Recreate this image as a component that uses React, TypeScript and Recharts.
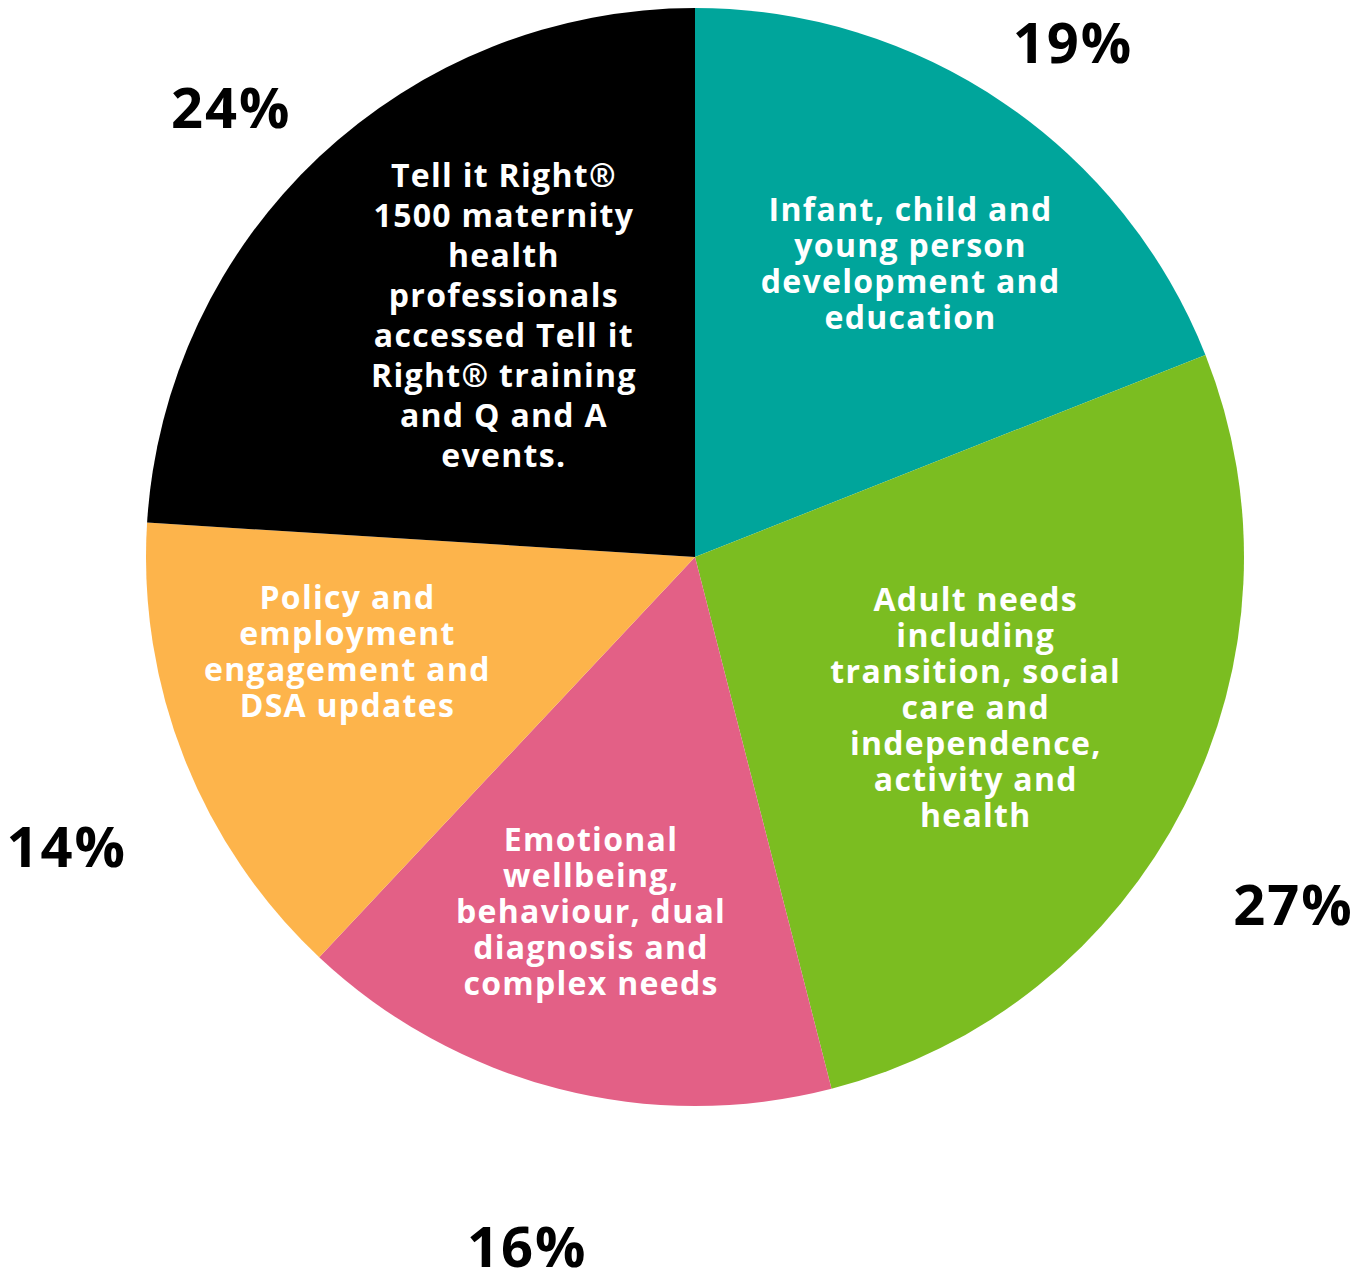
import React from 'react';
import { PieChart, Pie, Cell } from 'recharts';

// slice data, clockwise from 12 o'clock
const categories = [
    'Infant, child and young person development and education',
    'Adult needs including transition, social care and independence, activity and health',
    'Emotional wellbeing, behaviour, dual diagnosis and complex needs',
    'Policy and employment engagement and DSA updates',
    'Tell it Right 1500 maternity health professionals',
];
const shares = [19, 27, 16, 14, 24];
const labelLines = [
    ['Infant, child and', 'young person', 'development and', 'education'],
    ['Adult needs', 'including', 'transition, social', 'care and', 'independence,', 'activity and', 'health'],
    ['Emotional', 'wellbeing,', 'behaviour, dual', 'diagnosis and', 'complex needs'],
    ['Policy and', 'employment', 'engagement and', 'DSA updates'],
    ['Tell it Right®', '1500 maternity', 'health', 'professionals', 'accessed Tell it', 'Right® training', 'and Q and A', 'events.'],
];
const colors = ['#00A59B', '#7BBD21', '#E36086', '#FDB44B', '#000000'];

const chartData = categories.map((name, i) => ({ name, value: shares[i], lines: labelLines[i] }));

// hand placement of the labels (distance from centre, angle nudge in degrees)
const innerPos = [[365, -2], [318, -1], [368, -2], [360, -6.5], [309, -5]];
const outerPos = [[640, -2], [691, -3], [708, 0.7], [691, 3], [647, 2.6]];
const lineGap = [36, 36, 36, 36, 40];

const FONT = '"Open Sans", "Noto Sans", sans-serif';
const RAD = Math.PI / 180;

const renderLabel = (props: any) => {
    const { cx, cy, midAngle, index, value } = props;
    const [ri, ai] = innerPos[index];
    const [ro, ao] = outerPos[index];
    const ia = (midAngle + ai) * RAD;
    const oa = (midAngle + ao) * RAD;
    const ix = cx + ri * Math.cos(ia);
    const iy = cy - ri * Math.sin(ia);
    const ox = cx + ro * Math.cos(oa);
    const oy = cy - ro * Math.sin(oa);
    const lines: string[] = chartData[index].lines;
    const gap = lineGap[index];
    const top = iy - ((lines.length - 1) * gap) / 2;
    return (
        <g>
            {lines.map((ln, k) => (
                <text
                    key={k}
                    x={ix}
                    y={top + k * gap}
                    textAnchor="middle"
                    dominantBaseline="central"
                    fill="#ffffff"
                    fontFamily={FONT}
                    fontWeight={700}
                    fontSize={32}
                    letterSpacing={1.3}
                >
                    {ln}
                </text>
            ))}
            <text
                x={ox}
                y={oy}
                textAnchor="middle"
                dominantBaseline="central"
                fill="#000000"
                fontFamily={FONT}
                fontWeight={700}
                fontSize={56}
                letterSpacing={2}
            >
                {`${value}%`}
            </text>
        </g>
    );
};

export default function App() {
    return (
        <div style={{ position: 'absolute', left: 0, top: 0, width: 1369, height: 1274, background: '#ffffff' }}>
            <PieChart width={1369} height={1274} margin={{ top: 0, right: 0, bottom: 0, left: 0 }}>
                <Pie
                    data={chartData}
                    dataKey="value"
                    nameKey="name"
                    cx={695}
                    cy={557}
                    innerRadius={0}
                    outerRadius={549}
                    startAngle={90}
                    endAngle={-270}
                    stroke="none"
                    label={renderLabel}
                    labelLine={false}
                    isAnimationActive={false}
                >
                    {chartData.map((d, i) => (
                        <Cell key={d.name} fill={colors[i]} />
                    ))}
                </Pie>
            </PieChart>
        </div>
    );
}
